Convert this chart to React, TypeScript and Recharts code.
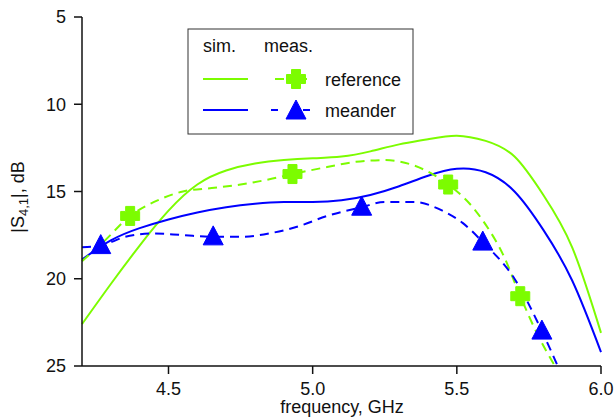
import React from "react";
import { LineChart, Line, XAxis, YAxis } from "recharts";

// simulated curves, common frequency grid (GHz)
const simFreq = [4.2, 4.3, 4.4, 4.5, 4.6, 4.7, 4.8, 4.9, 5.0, 5.1, 5.2, 5.3, 5.4, 5.5, 5.6, 5.7, 5.8, 5.9, 6.0];
const simReference = [22.6, 20.3, 18.1, 16.1, 14.6, 13.8, 13.4, 13.2, 13.1, 13.0, 12.7, 12.3, 12.0, 11.8, 12.1, 13.0, 15.2, 18.2, 23.1];
const simMeander = [18.9, 17.8, 17.1, 16.6, 16.2, 15.9, 15.7, 15.6, 15.6, 15.5, 15.2, 14.7, 14.1, 13.7, 13.9, 15.0, 17.2, 20.1, 24.2];

// measured curves
const measRefFreq = [4.2, 4.28, 4.367, 4.45, 4.55, 4.65, 4.75, 4.85, 4.93, 5.05, 5.15, 5.25, 5.35, 5.47, 5.55, 5.6, 5.66, 5.72, 5.78, 5.84];
const measRefValues = [19.0, 17.8, 16.4, 15.6, 15.0, 14.8, 14.6, 14.3, 14.0, 13.6, 13.3, 13.2, 13.5, 14.6, 15.8, 16.9, 18.6, 21.0, 23.2, 25.0];
const measRefMarkers = [4.367, 4.93, 5.47, 5.72];

const measMeaFreq = [4.2, 4.265, 4.35, 4.45, 4.55, 4.655, 4.75, 4.85, 4.95, 5.05, 5.17, 5.25, 5.35, 5.45, 5.52, 5.59, 5.7, 5.795, 5.85];
const measMeaValues = [18.2, 18.1, 17.6, 17.4, 17.5, 17.6, 17.6, 17.4, 17.0, 16.4, 15.9, 15.6, 15.6, 16.1, 16.8, 17.9, 20.0, 23.0, 25.0];
const measMeaMarkers = [4.265, 4.655, 5.17, 5.59, 5.795];

const xTicks = [4.5, 5.0, 5.5, 6.0];
const yTicks = [5, 10, 15, 20, 25];

const GREEN = "#7CFC00";
const BLUE = "#0000FF";
const FONT = "'Liberation Sans', Arial, sans-serif";

const simRefData = simFreq.map((f, i) => ({ f, v: simReference[i] }));
const simMeaData = simFreq.map((f, i) => ({ f, v: simMeander[i] }));
const measRefData = measRefFreq.map((f, i) => ({ f, v: measRefValues[i], mark: measRefMarkers.includes(f) }));
const measMeaData = measMeaFreq.map((f, i) => ({ f, v: measMeaValues[i], mark: measMeaMarkers.includes(f) }));

function Plus({ cx, cy }: { cx: number; cy: number }) {
  const a = 9.5, b = 4.5, c = a - b;
  const d = `M${cx - b},${cy - a}h${2 * b}v${c}h${c}v${2 * b}h${-c}v${c}h${-2 * b}v${-c}h${-c}v${-2 * b}h${c}z`;
  return <path d={d} fill={GREEN} stroke={GREEN} strokeWidth={1} strokeLinejoin="round" />;
}

function Tri({ cx, cy }: { cx: number; cy: number }) {
  const d = `M${cx},${cy - 11}L${cx + 10},${cy + 8}L${cx - 10},${cy + 8}z`;
  return <path d={d} fill={BLUE} stroke={BLUE} strokeWidth={1} strokeLinejoin="round" />;
}

const plusDot = (p: any) =>
  p.payload.mark ? <Plus key={p.index} cx={p.cx} cy={p.cy} /> : <g key={p.index} />;
const triDot = (p: any) =>
  p.payload.mark ? <Tri key={p.index} cx={p.cx} cy={p.cy} /> : <g key={p.index} />;

function LegendBox() {
  return (
    <svg
      width={227}
      height={107}
      style={{ position: "absolute", left: 187, top: 28, fontFamily: FONT }}
    >
      <rect x={1} y={1} width={225} height={105} fill="#fff" stroke="#333" strokeWidth={1} />
      <text x={16} y={24} fontSize={18} fill="#111">sim.</text>
      <text x={77} y={24} fontSize={18} fill="#111">meas.</text>
      <line x1={16} x2={61} y1={51} y2={51} stroke={GREEN} strokeWidth={2} />
      <line x1={88} x2={120} y1={51} y2={51} stroke={GREEN} strokeWidth={2} strokeDasharray="9 6" />
      <Plus cx={109} cy={51} />
      <text x={138} y={58} fontSize={18} fill="#111">reference</text>
      <line x1={16} x2={61} y1={82} y2={82} stroke={BLUE} strokeWidth={2} />
      <line x1={84} x2={123} y1={82} y2={82} stroke={BLUE} strokeWidth={2} strokeDasharray="7 25" />
      <Tri cx={109} cy={83} />
      <text x={138} y={89} fontSize={18} fill="#111">meander</text>
    </svg>
  );
}

export default function App() {
  return (
    <div style={{ position: "absolute", left: 0, top: 0, width: 614, height: 417, background: "#fff", fontFamily: FONT }}>
      <LineChart width={614} height={417} margin={{ top: 17, right: 13, bottom: 0, left: 0 }}>
        <XAxis
          type="number"
          dataKey="f"
          domain={[4.2, 6.0]}
          ticks={xTicks}
          tickFormatter={(t: number) => t.toFixed(1)}
          allowDuplicatedCategory={false}
          height={51}
          stroke="#111"
          strokeWidth={1.5}
          tickSize={8}
          tickMargin={8}
          tick={{ fontSize: 18, fill: "#111", fontFamily: FONT }}
          label={{
            content: () => (
              <text x={342} y={413} textAnchor="middle" fontSize={18} fill="#111" fontFamily={FONT}>
                frequency, GHz
              </text>
            ),
          }}
        />
        <YAxis
          type="number"
          domain={[5, 25]}
          reversed
          ticks={yTicks}
          width={82}
          stroke="#111"
          strokeWidth={1.5}
          tickSize={8}
          tickMargin={8}
          tick={{ fontSize: 18, fill: "#111", fontFamily: FONT }}
          label={{
            content: () => (
              <text x={24} y={197} transform="rotate(-90, 24, 197)" textAnchor="middle" fontSize={18} fill="#111" fontFamily={FONT}>
                |S<tspan dy={4} fontSize={13}>4,1</tspan>
                <tspan dy={-4}>|, dB</tspan>
              </text>
            ),
          }}
        />
        <Line data={simRefData} dataKey="v" type="natural" stroke={GREEN} strokeWidth={2} dot={false} isAnimationActive={false} />
        <Line data={simMeaData} dataKey="v" type="natural" stroke={BLUE} strokeWidth={2} dot={false} isAnimationActive={false} />
        <Line data={measRefData} dataKey="v" type="monotone" stroke={GREEN} strokeWidth={2} strokeDasharray="9 6" dot={plusDot} isAnimationActive={false} />
        <Line data={measMeaData} dataKey="v" type="monotone" stroke={BLUE} strokeWidth={2} strokeDasharray="9 6" dot={triDot} isAnimationActive={false} />
      </LineChart>
      <LegendBox />
    </div>
  );
}
